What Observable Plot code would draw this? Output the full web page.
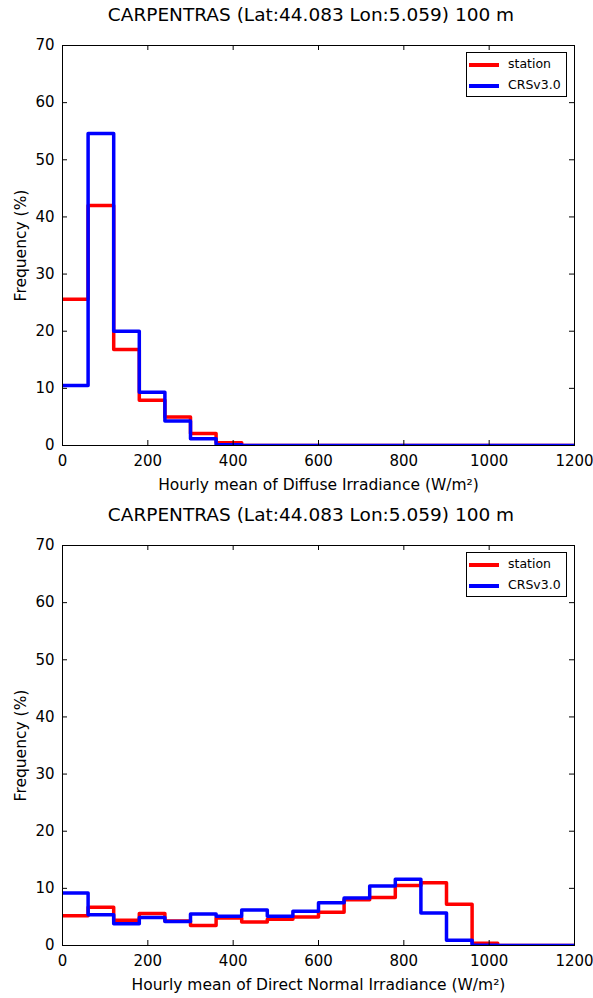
<!DOCTYPE html>
<html><head><meta charset="utf-8">
<script src="https://cdn.jsdelivr.net/npm/d3@7"></script>
<script src="https://cdn.jsdelivr.net/npm/@observablehq/plot@0.6"></script>
<style>
html,body{margin:0;padding:0;background:#fff;overflow:hidden;font-family:"DejaVu Sans",sans-serif;color:#000;}
.panel{position:relative;width:593px;}
.title{height:30px;line-height:30px;font-size:18.5px;text-align:center;padding-left:29px;width:564px;white-space:nowrap;}
.legend{position:absolute;left:466px;top:52px;width:99px;height:43px;border:1px solid #000;background:#fff;font-size:12.5px;}
.legend .row{position:absolute;left:0;height:20px;width:99px;}
.legend .sw{position:absolute;left:2px;width:30px;height:4px;}
.legend .lab{position:absolute;left:41px;}
svg{display:block;}
</style></head><body><div id="root"></div>
<script>
const titleText = "CARPENTRAS (Lat:44.083 Lon:5.059) 100 m";
const seriesNames = ["station", "CRSv3.0"];
const seriesColors = ["#ff0000", "#0000ff"];
const binStarts = [0, 60, 120, 180, 240, 300, 360, 420, 480, 540, 600, 660, 720, 780, 840, 900, 960, 1020, 1080, 1140];
const xMax = 1200;
const xTicks = [0, 200, 400, 600, 800, 1000, 1200];
const yTicks = [0, 10, 20, 30, 40, 50, 60, 70];

const diffuseStation = [25.6, 42.0, 16.8, 7.9, 5.0, 2.1, 0.5, 0, 0, 0, 0, 0, 0, 0, 0, 0, 0, 0, 0, 0];
const diffuseCRS     = [10.5, 54.6, 20.0, 9.3, 4.3, 1.2, 0.15, 0, 0, 0, 0, 0, 0, 0, 0, 0, 0, 0, 0, 0];
const dniStation = [5.2, 6.7, 4.4, 5.6, 4.3, 3.5, 4.8, 4.1, 4.6, 5.0, 5.8, 8.0, 8.4, 10.5, 11.0, 7.2, 0.4, 0, 0, 0];
const dniCRS     = [9.2, 5.4, 3.8, 4.9, 4.2, 5.5, 5.1, 6.2, 5.1, 6.0, 7.5, 8.3, 10.4, 11.6, 5.7, 0.9, 0.05, 0, 0, 0];

const panels = [
  {xlabel: "Hourly mean of Diffuse Irradiance (W/m²)", series: [diffuseStation, diffuseCRS]},
  {xlabel: "Hourly mean of Direct Normal Irradiance (W/m²)", series: [dniStation, dniCRS]}
];

function toSteps(vals) {
  return binStarts.map((b, i) => ({x: b, y: vals[i]}))
    .concat([{x: xMax, y: vals[vals.length - 1]}]);
}

const root = document.getElementById("root");
for (const p of panels) {
  const W = 593, H = 470, mL = 62, mR = 19, mT = 15, mB = 55;
  const pw = W - mL - mR, ph = H - mT - mB;
  const div = document.createElement("div");
  div.className = "panel";
  const t = document.createElement("div");
  t.className = "title";
  t.textContent = titleText;
  div.appendChild(t);
  const chart = Plot.plot({
    width: W, height: H, marginLeft: mL, marginRight: mR, marginTop: mT, marginBottom: mB,
    style: {fontFamily: "DejaVu Sans", fontSize: "15px", color: "#000", background: "#fff", overflow: "visible"},
    x: {domain: [0, xMax]},
    y: {domain: [0, 70]},
    marks: [
      ...p.series.map((s, k) => Plot.line(toSteps(s), {x: "x", y: "y", curve: "step-after", stroke: seriesColors[k], strokeWidth: 3.5, clip: true})),
      Plot.frame({stroke: "#000", strokeWidth: 1}),
      Plot.tickX(xTicks, {x: d => d, insetTop: ph - 5, stroke: "#000"}),
      Plot.tickX(xTicks, {x: d => d, insetBottom: ph - 5, stroke: "#000"}),
      Plot.tickY(yTicks, {y: d => d, insetRight: pw - 5, stroke: "#000"}),
      Plot.tickY(yTicks, {y: d => d, insetLeft: pw - 5, stroke: "#000"}),
      Plot.axisX({ticks: xTicks, tickSize: 0, tickPadding: 10, tickFormat: d => String(d), fontSize: 15, label: null}),
      Plot.axisX({ticks: [], tickSize: 0, label: p.xlabel, labelAnchor: "center", labelArrow: "none", labelOffset: 44, fontSize: 15.5}),
      Plot.axisY({ticks: yTicks, tickSize: 0, tickPadding: 8, tickFormat: d => String(d), fontSize: 15, label: null}),
      Plot.axisY({ticks: [], tickSize: 0, label: "Frequency (%)", labelAnchor: "center", labelArrow: "none", labelOffset: 48, fontSize: 15.5})
    ]
  });
  div.appendChild(chart);
  const lg = document.createElement("div");
  lg.className = "legend";
  lg.style.top = (30 + 22) + "px";
  seriesNames.forEach((n, k) => {
    const row = document.createElement("div");
    row.className = "row";
    row.style.top = (2 + k * 21) + "px";
    row.innerHTML = `<div class="sw" style="top:8px;background:${seriesColors[k]}"></div><div class="lab" style="top:1px">${n}</div>`;
    lg.appendChild(row);
  });
  div.appendChild(lg);
  root.appendChild(div);
}
</script></body></html>
